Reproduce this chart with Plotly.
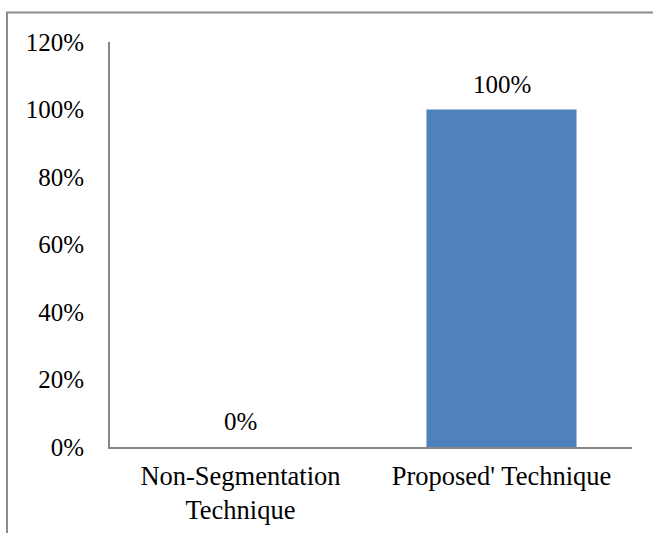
import plotly.graph_objects as go

# Data
categories = ["Non-Segmentation<br>Technique", "Proposed' Technique"]
values = [0.0, 1.0]
value_labels = ["0%", "100%"]

W, H = 653, 533
L, R, T, B = 110, 21, 41.5, 86.3
plot_w = W - L - R
plot_h = H - T - B

family = "Liberation Serif, Times New Roman, serif"
font = dict(family=family, size=25, color="#000000")
xfont = dict(family=family, size=26.5, color="#000000")

fig = go.Figure()
fig.add_trace(go.Bar(
    x=categories,
    y=values,
    marker=dict(color="#4f81bd", line=dict(width=0)),
    width=0.575,
    showlegend=False,
    hoverinfo="skip",
))

# Value labels above each bar
for c, v, t in zip(categories, values, value_labels):
    fig.add_annotation(
        x=c, y=v, text=t, showarrow=False,
        yanchor="bottom", yshift=10, font=font,
    )

# Chart-area border
fig.add_shape(
    type="rect", xref="paper", yref="paper",
    x0=(7 - L) / plot_w, x1=(W + 10 - L) / plot_w,
    y0=-(H + 10 - (T + plot_h)) / plot_h, y1=1 + (T - 12) / plot_h,
    line=dict(color="#8c8c8c", width=2), layer="above",
)

fig.update_layout(
    width=W, height=H,
    margin=dict(l=L, r=R, t=T, b=B, pad=0, autoexpand=False),
    paper_bgcolor="white", plot_bgcolor="white",
    font=font,
    xaxis=dict(
        showline=True, linecolor="#868686", linewidth=2,
        showgrid=False, ticks="", tickfont=xfont,
        zeroline=False, ticklabelstandoff=4, automargin=False,
    ),
    yaxis=dict(
        range=[0, 1.2], dtick=0.2, tick0=0, tickformat=".0%",
        showline=True, linecolor="#868686", linewidth=2,
        showgrid=False, zeroline=False, ticks="",
        ticklabelstandoff=19, tickfont=font, automargin=False,
    ),
)

fig.write_html("out.html")
